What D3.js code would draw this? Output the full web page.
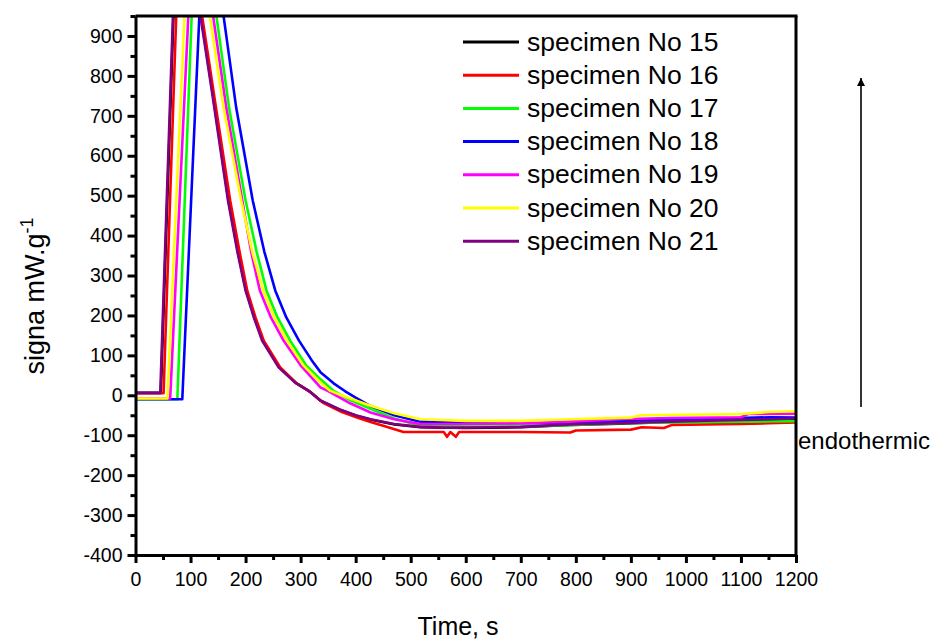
<!DOCTYPE html>
<html>
<head>
<meta charset="utf-8">
<script src="https://cdn.jsdelivr.net/npm/d3@7"></script>
<style>
  body { margin: 0; background: #fff; }
  text { font-family: "Liberation Sans", Arial, sans-serif; }
</style>
</head>
<body>
<svg width="933" height="640"></svg>
<script>
// specimen names and line colours
const specimenNames = ["specimen No 15", "specimen No 16", "specimen No 17", "specimen No 18",
                       "specimen No 19", "specimen No 20", "specimen No 21"];
const specimenColors = ["#000000", "#ff0000", "#00ff00", "#0000ff", "#ff00ff", "#ffff00", "#800080"];

// [time s, signal mW/g] (peaks go above the visible range)
const s15 = [[0,6],[46,6],[69,950],[95,1400],[119,950],[141,750],[169,488],[186,360],[201,262],[216,195],[231,137],[261,70],[291,31],[316,10],[337,-14],[371,-36],[401,-51],[428,-61],[471,-73],[518,-80],[600,-82],[700,-80],[790,-74],[880,-71],[971,-67],[1060,-64],[1153,-61],[1200,-59]];
const s16 = [[0,5],[51,5],[74,950],[98,1400],[121,950],[143,750],[172,488],[189,360],[203,262],[218,195],[233,137],[263,70],[293,30],[318,8],[340,-18],[375,-42],[405,-57],[430,-68],[450,-76],[487,-92],[560,-92],[566,-104],[572,-92],[582,-104],[588,-92],[700,-92],[790,-93],[800,-88],[900,-86],[920,-80],[960,-82],[975,-74],[1100,-72],[1150,-70],[1200,-68]];
const s17 = [[0,-10],[76,-10],[102,950],[125,1400],[147,950],[170,720],[200,488],[220,360],[238,262],[258,195],[281,137],[310,75],[336,40],[360,11],[390,-12],[427,-34],[470,-58],[517,-76],[600,-78],[700,-78],[790,-75],[880,-70],[971,-68],[1100,-66],[1200,-65]];
const s18 = [[0,-10],[85,-10],[116,950],[138,1400],[160,950],[183,720],[213,488],[234,360],[254,262],[274,195],[297,137],[320,88],[336,58],[360,30],[381,10],[400,-6],[427,-27],[470,-50],[517,-66],[600,-69],[700,-70],[790,-70],[880,-64],[971,-61],[1060,-58],[1153,-55],[1200,-56]];
const s19 = [[0,-8],[63,-8],[96,950],[118,1400],[141,950],[165,720],[194,488],[210,360],[226,262],[246,195],[269,137],[300,75],[336,20],[351,10],[390,-20],[427,-43],[470,-60],[517,-72],[600,-72],[700,-70],[790,-66],[880,-60],[971,-57],[1100,-55],[1113,-47],[1200,-46]];
const s20 = [[0,-8],[58,-8],[89,950],[112,1400],[135,950],[160,720],[192,488],[212,360],[232,262],[252,195],[275,137],[305,75],[336,32],[354,11],[390,-8],[427,-26],[470,-45],[517,-60],[600,-64],[700,-64],[790,-60],[900,-56],[917,-50],[1100,-47],[1150,-42],[1200,-40]];
const s21 = [[0,6],[45,6],[68,950],[94,1400],[118,950],[140,750],[168,488],[185,360],[200,262],[215,195],[230,137],[260,70],[290,32],[315,11],[336,-13],[370,-35],[400,-50],[427,-60],[470,-72],[517,-79],[560,-81],[600,-81],[700,-79],[790,-73],[880,-70],[971,-66],[1060,-63],[1153,-60],[1200,-58]];
const seriesValues = [s15, s16, s17, s18, s19, s20, s21];

// axis ticks
const xTicks = d3.range(0, 1201, 100);
const xMinorTicks = d3.range(50, 1200, 100);
const yTicks = d3.range(-400, 901, 100);
const yMinorTicks = d3.range(-350, 951, 100);

const svg = d3.select("svg");

// plot area
const plotLeft = 135.5, plotRight = 796, plotTop = 16, plotBottom = 555;

const x = d3.scaleLinear().domain([0, 1200]).range([plotLeft, plotRight]);
const y = d3.scaleLinear().domain([-400, 950]).range([plotBottom, plotTop]);

svg.append("clipPath").attr("id", "plotClip")
    .append("rect")
    .attr("x", plotLeft).attr("y", plotTop)
    .attr("width", plotRight - plotLeft).attr("height", plotBottom - plotTop);

const line = d3.line()
    .x(d => x(d[0]))
    .y(d => y(d[1]));

// curves
svg.append("g")
    .attr("clip-path", "url(#plotClip)")
    .selectAll("path")
    .data(seriesValues)
    .enter()
    .append("path")
    .attr("d", line)
    .attr("fill", "none")
    .attr("stroke", (d, i) => specimenColors[i])
    .attr("stroke-width", 2.6)
    .attr("stroke-linejoin", "round");

// frame (top and right)
svg.append("line")
    .attr("x1", plotLeft).attr("x2", plotRight + 1.5)
    .attr("y1", plotTop).attr("y2", plotTop)
    .attr("stroke", "#000").attr("stroke-width", 3);
svg.append("line")
    .attr("x1", plotRight).attr("x2", plotRight)
    .attr("y1", plotTop).attr("y2", plotBottom)
    .attr("stroke", "#000").attr("stroke-width", 3);

const plainFormat = d => String(d);

// x axis
const xAxis = svg.append("g")
    .attr("transform", `translate(0, ${plotBottom})`)
    .call(d3.axisBottom(x).tickValues(xTicks).tickFormat(plainFormat).tickSize(8).tickPadding(5).tickSizeOuter(0));
svg.append("g")
    .attr("transform", `translate(0, ${plotBottom})`)
    .call(d3.axisBottom(x).tickValues(xMinorTicks).tickSize(5).tickFormat("").tickSizeOuter(0))
    .select(".domain").remove();

// y axis
const yAxis = svg.append("g")
    .attr("transform", `translate(${plotLeft}, 0)`)
    .call(d3.axisLeft(y).tickValues(yTicks).tickFormat(plainFormat).tickSize(8).tickPadding(5).tickSizeOuter(0));
svg.append("g")
    .attr("transform", `translate(${plotLeft}, 0)`)
    .call(d3.axisLeft(y).tickValues(yMinorTicks).tickSize(5).tickFormat("").tickSizeOuter(0))
    .select(".domain").remove();

svg.selectAll(".domain").attr("stroke-width", 3);
svg.selectAll(".tick line").attr("stroke-width", 3);
svg.selectAll(".tick text")
    .attr("font-size", "19.5px")
    .attr("fill", "#000")
    .style("font-family", "'Liberation Sans', Arial, sans-serif");
xAxis.selectAll(".tick text").attr("dy", "0.9em");

// axis titles
svg.append("text")
    .attr("x", 458)
    .attr("y", 635)
    .attr("text-anchor", "middle")
    .attr("font-size", "25px")
    .text("Time, s");

const yTitle = svg.append("text")
    .attr("transform", "translate(44, 296) rotate(-90)")
    .attr("text-anchor", "middle")
    .attr("font-size", "27px");
yTitle.append("tspan").text("signa mW.g");
yTitle.append("tspan")
    .attr("font-size", "18px")
    .attr("dy", "-11")
    .text("-1");

// endothermic arrow
svg.append("defs").append("marker")
    .attr("id", "arrowHead")
    .attr("viewBox", "0 0 10 10")
    .attr("refX", 10).attr("refY", 5)
    .attr("markerWidth", 9).attr("markerHeight", 5)
    .attr("orient", "auto")
    .append("path")
    .attr("d", "M0,0 L10,5 L0,10 Z")
    .attr("fill", "#000");

svg.append("line")
    .attr("x1", 861).attr("x2", 861)
    .attr("y1", 407).attr("y2", 78)
    .attr("stroke", "#000")
    .attr("stroke-width", 1.6)
    .attr("marker-end", "url(#arrowHead)");

svg.append("text")
    .attr("x", 798)
    .attr("y", 449)
    .attr("font-size", "24px")
    .text("endothermic");

// legend
const legend = svg.append("g")
    .attr("transform", "translate(463, 42)");

legend.selectAll(".legend-line")
    .data(specimenNames)
    .enter()
    .append("line")
    .attr("x1", 0).attr("x2", 56)
    .attr("y1", (d, i) => i * 33.2)
    .attr("y2", (d, i) => i * 33.2)
    .attr("stroke", (d, i) => specimenColors[i])
    .attr("stroke-width", 3);

legend.selectAll(".legend-text")
    .data(specimenNames)
    .enter()
    .append("text")
    .attr("x", 64)
    .attr("y", (d, i) => i * 33.2 + 8.5)
    .attr("font-size", "26.5px")
    .text(d => d);
</script>
</body>
</html>
